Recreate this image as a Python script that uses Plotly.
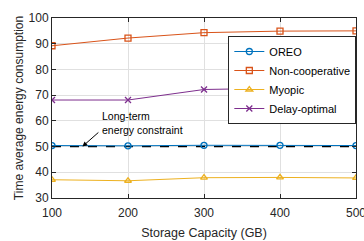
import plotly.graph_objects as go

capacity = [100, 200, 300, 400, 500]
oreo = [50.4, 50.3, 50.5, 50.5, 50.4]
non_coop = [89.2, 92.2, 94.3, 94.9, 95.0]
myopic = [37.1, 36.7, 37.9, 38.0, 37.8]
delay_opt = [68.1, 68.1, 72.2, 72.6, 73.2]
constraint = 50

colors = ["#0072BD", "#D95319", "#EDB120", "#7E2F8E"]

fig = go.Figure()
fig.add_trace(go.Scatter(x=[100, 500], y=[constraint, constraint], mode="lines",
                         line=dict(color="black", width=1.5, dash="dash"), showlegend=False))
series = [("OREO", oreo, "circle-open"), ("Non-cooperative", non_coop, "square-open"),
          ("Myopic", myopic, "triangle-up-open"), ("Delay-optimal", delay_opt, "x-thin-open")]
for (name, vals, sym), c in zip(series, colors):
    fig.add_trace(go.Scatter(x=capacity, y=vals, mode="lines+markers", name=name,
                             line=dict(color=c, width=1),
                             marker=dict(symbol=sym, size=6, color=c, line=dict(color=c, width=1.3))))

fig.add_annotation(x=140, y=50, ax=163, ay=56, xref="x", yref="y", axref="x", ayref="y",
                   text="", showarrow=True, arrowhead=2, arrowsize=1, arrowwidth=1, arrowcolor="black")
fig.add_annotation(x=163, y=59.3, xref="x", yref="y", text="Long-term<br>energy constraint",
                   showarrow=False, xanchor="left", yanchor="middle", align="left",
                   font=dict(size=10.5, color="black"))

axis_common = dict(showline=True, linecolor="#262626", linewidth=1, mirror="ticks",
                   ticks="inside", ticklen=4, tickcolor="#262626", automargin=False,
                   ticklabeloverflow="allow",
                   showgrid=True, gridcolor="#E0E0E0", gridwidth=1, zeroline=False,
                   tickfont=dict(size=12, color="#262626"))
fig.update_xaxes(range=[100, 500], tickvals=capacity, ticklabelstandoff=4,
                 title=dict(text="Storage Capacity (GB)", font=dict(size=12.5, color="#262626"), standoff=8),
                 **axis_common)
fig.update_yaxes(range=[30, 100], tickvals=[30, 40, 50, 60, 70, 80, 90, 100],
                 title=dict(text="Time average energy consumption", font=dict(size=12, color="#262626"), standoff=2),
                 **axis_common)

fig.update_layout(
    width=364, height=241, margin=dict(l=52, r=8, t=18, b=43, autoexpand=False),
    plot_bgcolor="white", paper_bgcolor="white",
    font=dict(family="Liberation Sans, Arial, sans-serif"),
    legend=dict(x=0.58, y=0.9, xanchor="left", yanchor="top",
                bgcolor="white", bordercolor="#262626", borderwidth=1,
                font=dict(size=11, color="black"), tracegroupgap=0, itemwidth=30),
)
fig.write_html("out.html", config={"displayModeBar": False},
               post_script="document.body.style.margin='0';")
